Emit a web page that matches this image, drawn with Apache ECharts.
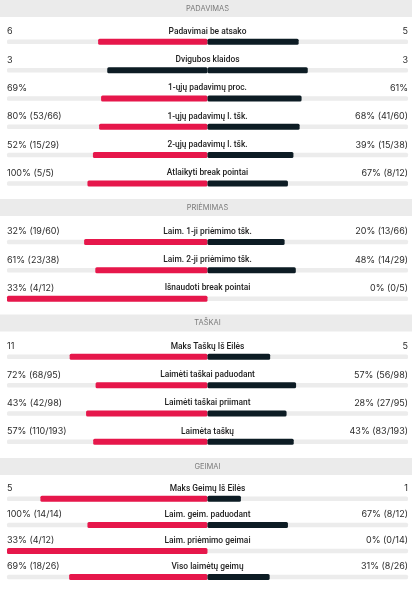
<!DOCTYPE html>
<html><head><meta charset="utf-8">
<script src="https://cdn.jsdelivr.net/npm/echarts@6/dist/echarts.min.js"></script>
<style>html,body{margin:0;padding:0;background:#fff}#c{width:414px;height:590px}</style>
</head><body><div id="c"></div>
<script>
// ---- data ----
const sectionTitles = ['PADAVIMAS', 'PRIĖMIMAS', 'TAŠKAI', 'GEIMAI'];

const servLabels = ['Padavimai be atsako', 'Dvigubos klaidos', '1-ųjų padavimų proc.', '1-ųjų padavimų l. tšk.', '2-ųjų padavimų l. tšk.', 'Atlaikyti break pointai'];
const servLeftText = ['6', '3', '69%', '80% (53/66)', '52% (15/29)', '100% (5/5)'];
const servRightText = ['5', '3', '61%', '68% (41/60)', '39% (15/38)', '67% (8/12)'];
const servLeft = [6, 3, 69, 80, 52, 100];
const servRight = [5, 3, 61, 68, 39, 67];

const retLabels = ['Laim. 1-ji priėmimo tšk.', 'Laim. 2-ji priėmimo tšk.', 'Išnaudoti break pointai'];
const retLeftText = ['32% (19/60)', '61% (23/38)', '33% (4/12)'];
const retRightText = ['20% (13/66)', '48% (14/29)', '0% (0/5)'];
const retLeft = [32, 61, 33];
const retRight = [20, 48, 0];

const ptsLabels = ['Maks Taškų Iš Eilės', 'Laimėti taškai paduodant', 'Laimėti taškai priimant', 'Laimėta taškų'];
const ptsLeftText = ['11', '72% (68/95)', '43% (42/98)', '57% (110/193)'];
const ptsRightText = ['5', '57% (56/98)', '28% (27/95)', '43% (83/193)'];
const ptsLeft = [11, 72, 43, 57];
const ptsRight = [5, 57, 28, 43];

const gmsLabels = ['Maks Geimų Iš Eilės', 'Laim. geim. paduodant', 'Laim. priėmimo geimai', 'Viso laimėtų geimų'];
const gmsLeftText = ['5', '100% (14/14)', '33% (4/12)', '69% (18/26)'];
const gmsRightText = ['1', '67% (8/12)', '0% (0/14)', '31% (8/26)'];
const gmsLeft = [5, 100, 33, 69];
const gmsRight = [1, 67, 0, 31];

// ---- layout / style ----
const RED = '#e6174b', DARK = '#0d1c24', TRACK = '#ececec', HEADER_BG = '#ebebeb';
const FONT = 'Inter, "Noto Sans", sans-serif';
const LABEL_FONT = 'Roboto, Inter, sans-serif';
const PITCH = 28.33;
const sections = [
  {labels: servLabels, lt: servLeftText, rt: servRightText, l: servLeft, r: servRight, header: 0, firstBar: 41.8},
  {labels: retLabels, lt: retLeftText, rt: retRightText, l: retLeft, r: retRight, header: 199, firstBar: 242},
  {labels: ptsLabels, lt: ptsLeftText, rt: ptsRightText, l: ptsLeft, r: ptsRight, header: 314.5, firstBar: 356.8},
  {labels: gmsLabels, lt: gmsLeftText, rt: gmsRightText, l: gmsLeft, r: gmsRight, header: 458, firstBar: 500}
];

const grid = [], xAxis = [], yAxis = [], series = [], graphic = [];
sections.forEach((s, k) => {
  const n = s.labels.length;
  grid.push({left: 7, right: 6, top: s.firstBar - PITCH / 2, height: PITCH * n, containLabel: false});
  xAxis.push({gridIndex: k, type: 'value', min: -1, max: 1, show: false});
  yAxis.push({gridIndex: k, type: 'category', data: s.labels, inverse: true, show: false});
  yAxis.push({gridIndex: k, type: 'category', data: s.labels, inverse: true, show: false});
  const yMain = 2 * k, yTrack = 2 * k + 1;
  const trackStyle = {color: TRACK, borderRadius: 1.5};
  series.push({type: 'bar', xAxisIndex: k, yAxisIndex: yTrack, stack: 'track' + k, barWidth: 4.5, silent: true,
    itemStyle: trackStyle, data: s.labels.map(() => -1)});
  series.push({type: 'bar', xAxisIndex: k, yAxisIndex: yTrack, stack: 'track' + k, barWidth: 4.5, silent: true,
    itemStyle: trackStyle, data: s.labels.map(() => 1)});
  series.push({type: 'bar', xAxisIndex: k, yAxisIndex: yMain, stack: 'val' + k, barWidth: 6, silent: true,
    itemStyle: {borderRadius: 1.5, color: p => s.l[p.dataIndex] > s.r[p.dataIndex] ? RED : DARK},
    data: s.l.map((v, i) => (v + s.r[i]) ? -v / (v + s.r[i]) : 0)});
  series.push({type: 'bar', xAxisIndex: k, yAxisIndex: yMain, stack: 'val' + k, barWidth: 6, silent: true,
    itemStyle: {borderRadius: 1.5, color: p => s.r[p.dataIndex] > s.l[p.dataIndex] ? RED : DARK},
    data: s.r.map((v, i) => (v + s.l[i]) ? v / (v + s.l[i]) : 0)});
  series.push({type: 'custom', xAxisIndex: k, yAxisIndex: yMain, silent: true,
    data: s.labels.map((_, i) => [0, i]),
    renderItem: (params, api) => {
      const i = api.value(1);
      const pl = api.coord([-1, i]), pc = api.coord([0, i]), pr = api.coord([1, i]);
      const base = {fontSize: 9, fontFamily: FONT, verticalAlign: 'middle', fill: '#2b2b2b'};
      return {type: 'group', children: [
        {type: 'text', x: pl[0], y: pl[1] - 10.3, style: Object.assign({}, base, {text: s.lt[i], align: 'left'})},
        {type: 'text', x: pc[0], y: pc[1] - 10.3, style: Object.assign({}, base, {text: s.labels[i], align: 'center', fontFamily: LABEL_FONT, fontSize: 8.4, fontWeight: 500, fill: '#222'})},
        {type: 'text', x: pr[0], y: pr[1] - 10.3, style: Object.assign({}, base, {text: s.rt[i], align: 'right'})}
      ]};
    }});
  graphic.push({type: 'rect', left: 0, top: s.header, shape: {width: 412, height: 17}, style: {fill: HEADER_BG}, silent: true});
  graphic.push({type: 'text', x: 207.5, y: s.header + 8.5, silent: true,
    style: {text: sectionTitles[k], fill: '#7a7a7a', fontSize: 7.5, fontFamily: FONT, align: 'center', verticalAlign: 'middle'}});
});

const chart = echarts.init(document.getElementById('c'), null, {renderer: 'canvas'});
chart.setOption({animation: false, backgroundColor: '#fff', grid, xAxis, yAxis, series, graphic});
</script>
</body></html>
